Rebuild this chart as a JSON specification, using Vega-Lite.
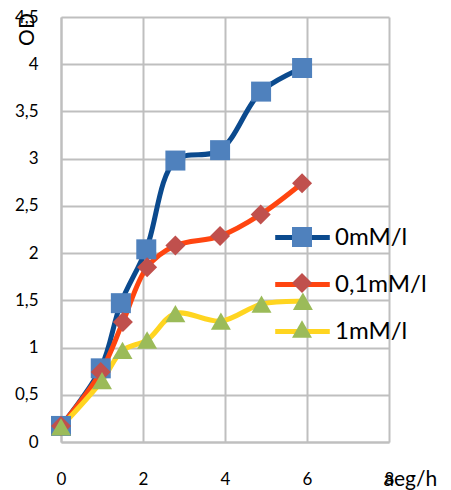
{
  "$schema": "https://vega.github.io/schema/vega-lite/v6.json",
  "width": 328,
  "height": 425,
  "autosize": {"type": "none"},
  "padding": {"left": 61, "top": 17, "right": 62, "bottom": 48},
  "background": "white",
  "config": {
    "view": {"stroke": null},
    "font": "Lato",
    "axis": {"labelFont": "Lato", "titleFont": "Lato", "labelFontSize": 17, "labelColor": "#000000", "titleColor": "#000000", "titleFontWeight": "normal", "titleFontSize": 20, "gridColor": "#bfbfbf", "gridWidth": 2, "domainColor": "#bfbfbf", "domainWidth": 2, "ticks": false, "labelFlush": false}
  },
  "data": {
    "values": [
      {"t": 0, "od": 0.17, "series": "0mM/l"},
      {"t": 0.97, "od": 0.78, "series": "0mM/l"},
      {"t": 1.46, "od": 1.47, "series": "0mM/l"},
      {"t": 2.08, "od": 2.04, "series": "0mM/l"},
      {"t": 2.79, "od": 2.98, "series": "0mM/l"},
      {"t": 3.88, "od": 3.09, "series": "0mM/l"},
      {"t": 4.88, "od": 3.71, "series": "0mM/l"},
      {"t": 5.88, "od": 3.96, "series": "0mM/l"},
      {"t": 0, "od": 0.17, "series": "0,1mM/l"},
      {"t": 0.97, "od": 0.74, "series": "0,1mM/l"},
      {"t": 1.51, "od": 1.27, "series": "0,1mM/l"},
      {"t": 2.1, "od": 1.85, "series": "0,1mM/l"},
      {"t": 2.79, "od": 2.08, "series": "0,1mM/l"},
      {"t": 3.88, "od": 2.18, "series": "0,1mM/l"},
      {"t": 4.87, "od": 2.41, "series": "0,1mM/l"},
      {"t": 5.88, "od": 2.74, "series": "0,1mM/l"},
      {"t": 0, "od": 0.16, "series": "1mM/l"},
      {"t": 1.0, "od": 0.65, "series": "1mM/l"},
      {"t": 1.5, "od": 0.97, "series": "1mM/l"},
      {"t": 2.1, "od": 1.08, "series": "1mM/l"},
      {"t": 2.79, "od": 1.36, "series": "1mM/l"},
      {"t": 3.9, "od": 1.28, "series": "1mM/l"},
      {"t": 4.89, "od": 1.46, "series": "1mM/l"},
      {"t": 5.9, "od": 1.49, "series": "1mM/l"}
    ]
  },
  "encoding": {
    "x": {"field": "t", "type": "quantitative",
      "scale": {"domain": [0, 8], "nice": false, "zero": true},
      "axis": {"values": [0, 2, 4, 6, 8], "title": "aeg/h", "labelPadding": 29, "titleAlign": "left", "titleAnchor": "start", "titleX": 322, "titleY": 37, "titleBaseline": "middle", "titleFontSize": 21}},
    "y": {"field": "od", "type": "quantitative",
      "scale": {"domain": [0, 4.5], "nice": false},
      "axis": {"values": [0, 0.5, 1, 1.5, 2, 2.5, 3, 3.5, 4, 4.5], "labelExpr": "replace(format(datum.value, '.1~f'), '.', ',')", "labelPadding": 23, "title": "OD", "titleAngle": -90, "titleX": -34, "titleY": 12, "titleAlign": "center", "titleBaseline": "middle", "titleFontSize": 21}}
  },
  "layer": [
    {
      "mark": {"type": "line", "interpolate": "catmull-rom", "strokeWidth": 5, "strokeCap": "round", "strokeJoin": "round"},
      "encoding": {
        "stroke": {"field": "series", "type": "nominal", "sort": ["0mM/l", "0,1mM/l", "1mM/l"],
          "scale": {"range": ["#0B4A8E", "#FF4510", "#FFD520"]},
          "legend": {"orient": "none", "legendX": 229, "legendY": 208, "title": null, "symbolType": "M-2.8,0H2.8", "symbolSize": 380, "symbolStrokeWidth": 5, "labelFontSize": 24, "labelFont": "Lato", "labelColor": "#000000", "labelOffset": 20, "rowPadding": 22, "padding": 0}}
      }
    },
    {
      "mark": {"type": "point", "filled": true, "opacity": 1, "size": 400},
      "encoding": {
        "fill": {"field": "series", "type": "nominal",
          "scale": {"domain": ["0mM/l", "0,1mM/l", "1mM/l"], "range": ["#4F81BD", "#C0504D", "#9BBB59"]},
          "legend": {"orient": "none", "legendX": 229, "legendY": 208, "title": null, "symbolSize": 400, "symbolStrokeWidth": 0, "labelFontSize": 24, "labelFont": "Lato", "labelColor": "transparent", "labelOffset": 20, "rowPadding": 22, "padding": 0}},
        "shape": {"field": "series", "type": "nominal",
          "scale": {"domain": ["0mM/l", "0,1mM/l", "1mM/l"], "range": ["square", "diamond", "triangle-up"]},
          "legend": {"orient": "none", "legendX": 229, "legendY": 208, "title": null, "symbolSize": 400, "symbolStrokeWidth": 0, "labelFontSize": 24, "labelFont": "Lato", "labelColor": "transparent", "labelOffset": 20, "rowPadding": 22, "padding": 0}}
      }
    }
  ]
}
